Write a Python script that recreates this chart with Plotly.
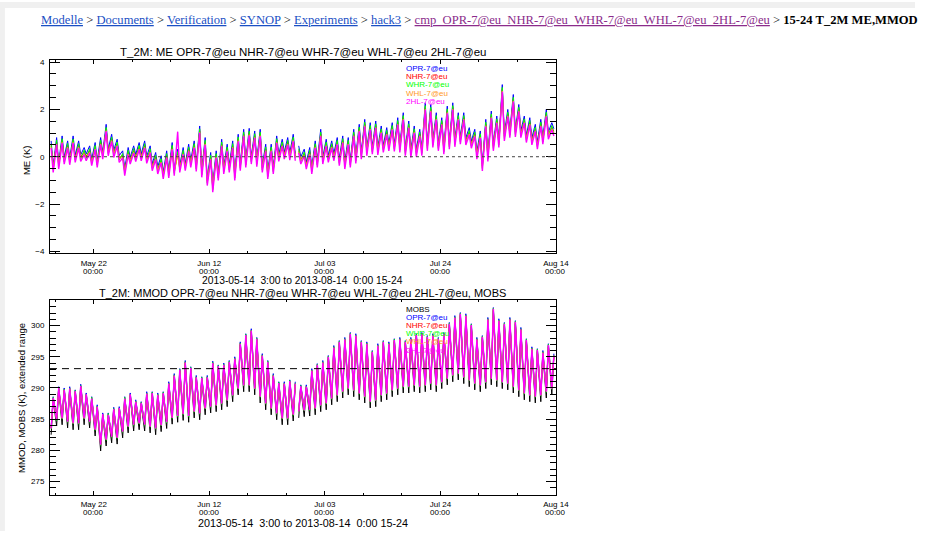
import pandas as pd
import plotly.graph_objects as go

W, H = 928, 534

START_DAY = "2013-05-14"
N_DAYS = 92
GAP_AFTER_DAY = 44          # missing verification around 27/28 June
LO_HOUR_T, HI_HOUR_T = 6, 15
HI_HOUR_ME, LO_HOUR_ME = 6, 15

EXPERIMENTS = ["OPR-7@eu", "NHR-7@eu", "WHR-7@eu", "WHL-7@eu", "2HL-7@eu"]
COLORS = ["#0000ff", "#ff0000", "#00ff00", "#ff9a1f", "#ff00ff"]
WIDTHS = [1, 1, 1, 1, 1.4]

# ---------------- mean error (K), daily upper / lower extremes ----------------
ME_OPR_HI = [
    0.67, 0.81, 0.88, 0.67, 0.88, 0.67, 0.39, 0.46, 0.60, 0.81,
    1.37, 0.95, 0.74, 0.25, 0.39, 0.46, 0.60, 0.67, 0.46, 0.18,
    0.04, 0.25, 0.60, 0.32, 0.39, 0.53, 0.67, 1.30, 0.81, 0.18,
    0.25, 0.74, 0.53, 0.67, 0.95, 1.16, 1.20, 1.09, 1.16, 0.53,
    0.53, 0.88, 0.74, 0.81, 0.95, 0.46, 0.32, 0.39, 0.67, 1.16,
    0.74, 0.67, 0.81, 0.88, 0.81, 1.16, 1.37, 1.58, 1.44, 1.51,
    1.30, 1.23, 1.44, 1.65, 1.86, 1.51, 1.30, 1.16, 2.28, 2.21,
    1.86, 1.65, 2.14, 2.28, 1.86, 1.86, 1.23, 1.16, 1.09, 1.58,
    1.93, 1.72, 3.05, 2.00, 2.63, 2.21, 1.72, 1.65, 1.37, 1.58,
    2.00, 1.44]
ME_OPR_LO = [
    -0.38, -0.25, -0.02, -0.05, 0.06, 0.08, 0.12, -0.10, -0.15, 0.18,
    0.32, 0.27, 0.05, -0.50, -0.02, 0.10, 0.12, 0.02, -0.30, -0.42,
    -0.65, -0.60, -0.52, -0.38, -0.30, -0.16, -0.33, -0.57, -0.92, -1.18,
    -0.70, -0.45, -0.36, -0.70, -0.30, -0.15, -0.02, -0.12, -0.37, -0.64,
    -0.44, 0.10, 0.20, 0.16, 0.13, -0.01, -0.22, -0.44, -0.15, -0.01,
    0.06, 0.13, -0.08, -0.22, -0.15, 0.02, 0.20, 0.34, 0.41, 0.38,
    0.48, 0.55, 0.52, 0.48, 0.34, 0.27, 0.30, 0.34, 0.55, 0.69,
    0.55, 0.41, 0.62, 0.72, 0.83, 0.80, 0.66, 0.20, -0.30, 0.10,
    0.55, 0.69, 0.97, 1.11, 1.14, 1.11, 0.90, 0.80, 0.62, 0.83,
    1.04, 1.18]
ME_NHR_HI = [
    0.47, 0.61, 0.68, 0.47, 0.68, 0.47, 0.19, 0.26, 0.40, 0.61,
    1.17, 0.75, 0.54, 0.05, 0.19, 0.26, 0.40, 0.47, 0.26, -0.02,
    -0.16, 0.05, 0.40, 0.12, 0.19, 0.33, 0.47, 1.10, 0.61, -0.02,
    0.05, 0.54, 0.33, 0.47, 0.75, 0.96, 1.00, 0.89, 0.96, 0.33,
    0.33, 0.68, 0.54, 0.61, 0.75, 0.26, 0.12, 0.19, 0.47, 0.96,
    0.54, 0.47, 0.61, 0.68, 0.61, 0.96, 1.17, 1.38, 1.24, 1.31,
    1.10, 1.03, 1.24, 1.45, 1.66, 1.31, 1.10, 0.96, 2.08, 2.01,
    1.66, 1.45, 1.94, 2.08, 1.66, 1.66, 1.03, 0.96, 0.89, 1.38,
    1.73, 1.52, 2.85, 1.80, 2.43, 2.01, 1.52, 1.45, 1.17, 1.38,
    1.80, 1.24]
ME_NHR_LO = [
    -0.46, -0.32, -0.11, -0.14, -0.04, 0.00, 0.03, -0.18, -0.25, 0.10,
    0.24, 0.17, -0.04, -0.60, -0.11, 0.00, 0.03, -0.08, -0.39, -0.53,
    -0.74, -0.70, -0.60, -0.46, -0.39, -0.25, -0.42, -0.67, -1.02, -1.30,
    -0.80, -0.53, -0.46, -0.80, -0.39, -0.25, -0.11, -0.22, -0.46, -0.74,
    -0.53, 0.00, 0.10, 0.06, 0.03, -0.11, -0.32, -0.53, -0.25, -0.11,
    -0.04, 0.03, -0.18, -0.32, -0.25, -0.08, 0.10, 0.24, 0.31, 0.28,
    0.38, 0.45, 0.42, 0.38, 0.24, 0.17, 0.20, 0.24, 0.45, 0.59,
    0.45, 0.31, 0.52, 0.62, 0.73, 0.70, 0.56, 0.10, -0.40, 0.00,
    0.45, 0.59, 0.87, 1.01, 1.04, 1.01, 0.80, 0.70, 0.52, 0.73,
    0.94, 1.08]
ME_WHR_HI = [
    0.55, 0.70, 0.76, 0.56, 0.75, 0.55, 0.28, 0.34, 0.48, 0.70,
    1.24, 0.83, 0.62, 0.13, 0.27, 0.35, 0.48, 0.55, 0.34, 0.06,
    -0.08, 0.13, 0.48, 0.21, 0.27, 0.41, 0.55, 1.18, 0.69, 0.06,
    0.13, 0.62, 0.41, 0.55, 0.83, 1.04, 1.08, 0.97, 1.04, 0.41,
    0.41, 0.76, 0.62, 0.69, 0.83, 0.34, 0.20, 0.27, 0.55, 1.04,
    0.62, 0.55, 0.69, 0.76, 0.69, 1.04, 1.25, 1.46, 1.32, 1.39,
    1.18, 1.11, 1.32, 1.53, 1.74, 1.39, 1.18, 1.04, 2.16, 2.09,
    1.74, 1.53, 2.02, 2.16, 1.74, 1.74, 1.11, 1.04, 0.97, 1.46,
    1.81, 1.60, 2.93, 1.88, 2.51, 2.09, 1.60, 1.53, 1.25, 1.46,
    1.88, 1.32]
ME_WHR_LO = [
    -0.56, -0.42, -0.21, -0.24, -0.14, -0.10, -0.07, -0.28, -0.35, 0.00,
    0.14, 0.07, -0.14, -0.70, -0.21, -0.10, -0.07, -0.18, -0.49, -0.63,
    -0.84, -0.80, -0.70, -0.56, -0.49, -0.35, -0.52, -0.77, -1.12, -1.40,
    -0.90, -0.63, -0.56, -0.90, -0.49, -0.35, -0.21, -0.32, -0.56, -0.84,
    -0.63, -0.10, 0.00, -0.04, -0.07, -0.21, -0.42, -0.63, -0.35, -0.21,
    -0.14, -0.07, -0.28, -0.42, -0.35, -0.18, 0.00, 0.14, 0.21, 0.18,
    0.28, 0.35, 0.32, 0.28, 0.14, 0.07, 0.10, 0.14, 0.35, 0.49,
    0.35, 0.21, 0.42, 0.52, 0.63, 0.60, 0.46, 0.00, -0.50, -0.10,
    0.35, 0.49, 0.77, 0.91, 0.94, 0.91, 0.70, 0.60, 0.42, 0.63,
    0.84, 0.98]
ME_WHL_HI = [
    0.40, 0.54, 0.61, 0.40, 0.61, 0.40, 0.12, 0.19, 0.33, 0.54,
    1.10, 0.68, 0.47, -0.02, 0.12, 0.19, 0.33, 0.40, 0.19, -0.09,
    -0.23, -0.02, 0.33, 0.05, 0.12, 0.26, 0.40, 1.03, 0.54, -0.09,
    -0.02, 0.47, 0.26, 0.40, 0.68, 0.89, 0.93, 0.82, 0.89, 0.26,
    0.26, 0.61, 0.47, 0.54, 0.68, 0.19, 0.05, 0.12, 0.40, 0.89,
    0.47, 0.40, 0.54, 0.61, 0.54, 0.89, 1.10, 1.31, 1.17, 1.24,
    1.03, 0.96, 1.17, 1.38, 1.59, 1.24, 1.03, 0.89, 2.01, 1.94,
    1.59, 1.38, 1.87, 2.01, 1.59, 1.59, 0.96, 0.89, 0.82, 1.31,
    1.66, 1.45, 2.78, 1.73, 2.36, 1.94, 1.45, 1.38, 1.10, 1.31,
    1.73, 1.17]
ME_WHL_LO = [
    -0.51, -0.37, -0.16, -0.19, -0.09, -0.05, -0.02, -0.23, -0.30, 0.05,
    0.19, 0.12, -0.09, -0.65, -0.16, -0.05, -0.02, -0.13, -0.44, -0.58,
    -0.79, -0.75, -0.65, -0.51, -0.44, -0.30, -0.47, -0.72, -1.07, -1.35,
    -0.85, -0.58, -0.51, -0.85, -0.44, -0.30, -0.16, -0.27, -0.51, -0.79,
    -0.58, -0.05, 0.05, 0.01, -0.02, -0.16, -0.37, -0.58, -0.30, -0.16,
    -0.09, -0.02, -0.23, -0.37, -0.30, -0.13, 0.05, 0.19, 0.26, 0.23,
    0.33, 0.40, 0.37, 0.33, 0.19, 0.12, 0.15, 0.19, 0.40, 0.54,
    0.40, 0.26, 0.47, 0.57, 0.68, 0.65, 0.51, 0.05, -0.45, -0.05,
    0.40, 0.54, 0.82, 0.96, 0.99, 0.96, 0.75, 0.65, 0.47, 0.68,
    0.89, 1.03]
ME_2HL_HI = [
    0.37, 0.51, 0.58, 0.37, 0.58, 0.37, 0.09, 0.16, 0.30, 0.51,
    1.07, 0.65, 0.44, -0.05, 0.09, 0.16, 0.30, 0.37, 0.16, -0.12,
    -0.26, -0.05, 0.30, 1.06, 0.09, 0.23, 0.37, 1.00, 0.51, -0.12,
    -0.05, 0.44, 0.23, 0.37, 0.65, 0.86, 0.90, 0.79, 0.86, 0.23,
    0.23, 0.58, 0.44, 0.51, 0.65, 0.16, 0.02, 0.09, 0.37, 0.86,
    0.44, 0.37, 0.51, 0.58, 0.51, 0.86, 1.07, 1.28, 1.14, 1.21,
    1.00, 0.93, 1.14, 1.35, 1.56, 1.21, 1.00, 0.86, 1.98, 1.91,
    1.56, 1.35, 1.84, 1.98, 1.56, 1.56, 0.93, 0.86, 0.79, 1.28,
    1.63, 1.42, 2.75, 1.70, 2.33, 1.91, 1.42, 1.35, 1.07, 1.28,
    1.70, 1.14]
ME_2HL_LO = [
    -0.66, -0.52, -0.31, -0.34, -0.24, -0.20, -0.17, -0.38, -0.45, -0.10,
    0.04, -0.03, -0.24, -0.80, -0.31, -0.20, -0.17, -0.28, -0.59, -0.73,
    -0.94, -0.90, -0.80, -0.66, -0.59, -0.45, -0.62, -0.87, -1.22, -1.50,
    -1.00, -0.73, -0.66, -1.00, -0.59, -0.45, -0.31, -0.42, -0.66, -0.94,
    -0.73, -0.20, -0.10, -0.14, -0.17, -0.31, -0.52, -0.73, -0.45, -0.31,
    -0.24, -0.17, -0.38, -0.52, -0.45, -0.28, -0.10, 0.04, 0.11, 0.08,
    0.18, 0.25, 0.22, 0.18, 0.04, -0.03, 0.00, 0.04, 0.25, 0.39,
    0.25, 0.11, 0.32, 0.42, 0.53, 0.50, 0.36, -0.10, -0.60, -0.20,
    0.25, 0.39, 0.67, 0.81, 0.84, 0.81, 0.60, 0.50, 0.32, 0.53,
    0.74, 0.88]

# ---------------- 2 m temperature (K), daily minimum / maximum ----------------
MOBS_HI = [
    288.1, 289.7, 289.5, 289.7, 289.2, 290.1, 288.7, 288.1, 286.8, 285.5,
    285.5, 286.4, 286.5, 288.1, 288.7, 287.6, 287.3, 288.9, 288.9, 288.7,
    288.9, 290.5, 291.8, 292.6, 293.9, 292.9, 291.5, 291.3, 291.5, 293.8,
    293.2, 293.5, 293.9, 294.5, 296.9, 298.2, 299.0, 297.6, 295.0, 293.9,
    291.8, 290.5, 290.5, 290.8, 290.5, 290.0, 290.0, 292.6, 293.4, 293.9,
    294.7, 296.3, 297.1, 297.6, 298.4, 298.2, 297.1, 296.9, 295.5, 296.6,
    297.1, 296.9, 297.4, 297.6, 297.1, 297.6, 298.2, 298.4, 297.9, 298.2,
    297.6, 298.4, 300.0, 301.1, 301.6, 301.4, 299.8, 297.6, 297.9, 300.8,
    302.4, 300.6, 300.0, 300.8, 300.3, 299.2, 297.4, 296.1, 295.8, 295.5,
    296.6, 295.0]
MOBS_LO = [
    282.5, 283.9, 284.1, 283.6, 283.3, 283.3, 284.1, 283.6, 282.3, 279.9,
    280.7, 281.2, 281.0, 282.0, 282.8, 283.1, 283.3, 283.1, 282.8, 282.5,
    283.0, 283.5, 284.2, 284.5, 284.8, 284.5, 285.2, 284.9, 285.7, 286.0,
    286.2, 286.5, 287.0, 287.8, 288.9, 289.4, 289.4, 288.9, 287.6, 286.5,
    285.7, 284.9, 284.1, 284.1, 284.7, 285.2, 285.4, 285.5, 285.7, 286.2,
    286.5, 287.3, 287.8, 288.4, 288.9, 288.6, 288.1, 287.6, 286.8, 287.0,
    287.8, 288.1, 288.6, 288.9, 289.2, 289.2, 289.4, 289.2, 289.4, 289.7,
    289.4, 289.9, 290.5, 291.0, 291.3, 290.7, 290.2, 289.7, 289.4, 289.9,
    290.5, 290.2, 289.9, 289.7, 289.2, 288.6, 288.1, 287.8, 287.6, 287.8,
    288.4, 288.9]
T_OPR_HI = [
    288.6, 290.2, 290.0, 290.2, 289.7, 290.6, 289.2, 288.6, 287.3, 286.0,
    286.0, 286.9, 287.0, 288.6, 289.2, 288.1, 287.8, 289.4, 289.4, 289.2,
    289.4, 291.0, 292.3, 293.1, 294.4, 293.4, 292.0, 291.8, 292.0, 294.3,
    293.7, 294.0, 294.4, 295.0, 297.4, 298.7, 299.5, 298.1, 295.5, 294.4,
    292.3, 291.0, 291.0, 291.3, 291.0, 290.5, 290.5, 293.1, 293.9, 294.4,
    295.2, 296.8, 297.6, 298.1, 298.9, 298.7, 297.6, 297.4, 296.0, 297.1,
    297.6, 297.4, 297.9, 298.1, 297.6, 298.1, 298.7, 298.9, 298.4, 298.7,
    298.1, 298.9, 300.5, 301.6, 302.1, 301.9, 300.3, 298.1, 298.4, 301.3,
    302.9, 301.1, 300.5, 301.3, 300.8, 299.7, 297.9, 296.6, 296.3, 296.0,
    297.1, 295.5]
T_OPR_LO = [
    283.7, 285.1, 285.3, 284.8, 284.5, 284.5, 285.3, 284.8, 283.5, 281.1,
    281.9, 282.4, 282.2, 283.2, 284.0, 284.3, 284.5, 284.3, 284.0, 283.7,
    284.2, 284.7, 285.4, 285.7, 286.0, 285.7, 286.4, 286.1, 286.9, 287.2,
    287.4, 287.7, 288.2, 289.0, 290.1, 290.6, 290.6, 290.1, 288.8, 287.7,
    286.9, 286.1, 285.3, 285.3, 285.9, 286.4, 286.6, 286.7, 286.9, 287.4,
    287.7, 288.5, 289.0, 289.6, 290.1, 289.8, 289.3, 288.8, 288.0, 288.2,
    289.0, 289.3, 289.8, 290.1, 290.4, 290.4, 290.6, 290.4, 290.6, 290.9,
    290.6, 291.1, 291.7, 292.2, 292.5, 291.9, 291.4, 290.9, 290.6, 291.1,
    291.7, 291.4, 291.1, 290.9, 290.4, 289.8, 289.3, 289.0, 288.8, 289.0,
    289.6, 290.1]
T_NHR_HI = [
    288.3, 289.9, 289.7, 289.9, 289.4, 290.3, 288.9, 288.3, 287.0, 285.7,
    285.7, 286.6, 286.7, 288.3, 288.9, 287.8, 287.5, 289.1, 289.1, 288.9,
    289.1, 290.7, 292.0, 292.8, 294.1, 293.1, 291.7, 291.5, 291.7, 294.0,
    293.4, 293.7, 294.1, 294.7, 297.1, 298.4, 299.2, 297.8, 295.2, 294.1,
    292.0, 290.7, 290.7, 291.0, 290.7, 290.2, 290.2, 292.8, 293.6, 294.1,
    294.9, 296.5, 297.3, 297.8, 298.6, 298.4, 297.3, 297.1, 295.7, 296.8,
    297.3, 297.1, 297.6, 297.8, 297.3, 297.8, 298.4, 298.6, 298.1, 298.4,
    297.8, 298.6, 300.2, 301.3, 301.8, 301.6, 300.0, 297.8, 298.1, 301.0,
    302.6, 300.8, 300.2, 301.0, 300.5, 299.4, 297.6, 296.3, 296.0, 295.7,
    296.8, 295.2]
T_NHR_LO = [
    283.6, 285.0, 285.2, 284.7, 284.4, 284.4, 285.2, 284.7, 283.4, 281.0,
    281.8, 282.3, 282.1, 283.1, 283.9, 284.2, 284.4, 284.2, 283.9, 283.6,
    284.1, 284.6, 285.3, 285.6, 285.9, 285.6, 286.3, 286.0, 286.8, 287.1,
    287.3, 287.6, 288.1, 288.9, 290.0, 290.5, 290.5, 290.0, 288.7, 287.6,
    286.8, 286.0, 285.2, 285.2, 285.8, 286.3, 286.5, 286.6, 286.8, 287.3,
    287.6, 288.4, 288.9, 289.5, 290.0, 289.7, 289.2, 288.7, 287.9, 288.1,
    288.9, 289.2, 289.7, 290.0, 290.3, 290.3, 290.5, 290.3, 290.5, 290.8,
    290.5, 291.0, 291.6, 292.1, 292.4, 291.8, 291.3, 290.8, 290.5, 291.0,
    291.6, 291.3, 291.0, 290.8, 290.3, 289.7, 289.2, 288.9, 288.7, 288.9,
    289.5, 290.0]
T_WHR_HI = [
    288.5, 290.1, 289.8, 290.0, 289.6, 290.4, 289.0, 288.5, 287.1, 285.8,
    285.9, 286.7, 286.8, 288.5, 289.0, 287.9, 287.7, 289.2, 289.3, 289.0,
    289.3, 290.8, 292.1, 293.0, 294.2, 293.3, 291.8, 291.7, 291.8, 294.1,
    293.6, 293.8, 294.3, 294.8, 297.2, 298.6, 299.3, 298.0, 295.3, 294.3,
    292.1, 290.9, 290.8, 291.2, 290.8, 290.4, 290.3, 292.9, 293.8, 294.2,
    295.1, 296.6, 297.5, 297.9, 298.8, 298.5, 297.5, 297.2, 295.9, 296.9,
    297.5, 297.2, 297.8, 297.9, 297.5, 297.9, 298.6, 298.7, 298.3, 298.5,
    298.0, 298.7, 300.4, 301.4, 302.0, 301.7, 300.2, 297.9, 298.3, 301.1,
    302.8, 300.9, 300.4, 301.1, 300.7, 299.5, 297.8, 296.4, 296.2, 295.8,
    297.0, 295.3]
T_WHR_LO = [
    283.4, 284.8, 285.0, 284.5, 284.2, 284.2, 285.0, 284.5, 283.2, 280.8,
    281.6, 282.1, 281.9, 282.9, 283.7, 284.0, 284.2, 284.0, 283.7, 283.4,
    283.9, 284.4, 285.1, 285.4, 285.7, 285.4, 286.1, 285.8, 286.6, 286.9,
    287.1, 287.4, 287.9, 288.7, 289.8, 290.3, 290.3, 289.8, 288.5, 287.4,
    286.6, 285.8, 285.0, 285.0, 285.6, 286.1, 286.3, 286.4, 286.6, 287.1,
    287.4, 288.2, 288.7, 289.3, 289.8, 289.5, 289.0, 288.5, 287.7, 287.9,
    288.7, 289.0, 289.5, 289.8, 290.1, 290.1, 290.3, 290.1, 290.3, 290.6,
    290.3, 290.8, 291.4, 291.9, 292.2, 291.6, 291.1, 290.6, 290.3, 290.8,
    291.4, 291.1, 290.8, 290.6, 290.1, 289.5, 289.0, 288.7, 288.5, 288.7,
    289.3, 289.8]
T_WHL_HI = [
    288.2, 289.8, 289.6, 289.8, 289.3, 290.2, 288.8, 288.2, 286.9, 285.6,
    285.6, 286.5, 286.6, 288.2, 288.8, 287.7, 287.4, 289.0, 289.0, 288.8,
    289.0, 290.6, 291.9, 292.7, 294.0, 293.0, 291.6, 291.4, 291.6, 293.9,
    293.3, 293.6, 294.0, 294.6, 297.0, 298.3, 299.1, 297.7, 295.1, 294.0,
    291.9, 290.6, 290.6, 290.9, 290.6, 290.1, 290.1, 292.7, 293.5, 294.0,
    294.8, 296.4, 297.2, 297.7, 298.5, 298.3, 297.2, 297.0, 295.6, 296.7,
    297.2, 297.0, 297.5, 297.7, 297.2, 297.7, 298.3, 298.5, 298.0, 298.3,
    297.7, 298.5, 300.1, 301.2, 301.7, 301.5, 299.9, 297.7, 298.0, 300.9,
    302.5, 300.7, 300.1, 300.9, 300.4, 299.3, 297.5, 296.2, 295.9, 295.6,
    296.7, 295.1]
T_WHL_LO = [
    283.55, 284.95, 285.15, 284.65, 284.35, 284.35, 285.15, 284.65, 283.35, 280.95,
    281.75, 282.25, 282.05, 283.05, 283.85, 284.15, 284.35, 284.15, 283.85, 283.55,
    284.05, 284.55, 285.25, 285.55, 285.85, 285.55, 286.25, 285.95, 286.75, 287.05,
    287.25, 287.55, 288.05, 288.85, 289.95, 290.45, 290.45, 289.95, 288.65, 287.55,
    286.75, 285.95, 285.15, 285.15, 285.75, 286.25, 286.45, 286.55, 286.75, 287.25,
    287.55, 288.35, 288.85, 289.45, 289.95, 289.65, 289.15, 288.65, 287.85, 288.05,
    288.85, 289.15, 289.65, 289.95, 290.25, 290.25, 290.45, 290.25, 290.45, 290.75,
    290.45, 290.95, 291.55, 292.05, 292.35, 291.75, 291.25, 290.75, 290.45, 290.95,
    291.55, 291.25, 290.95, 290.75, 290.25, 289.65, 289.15, 288.85, 288.65, 288.85,
    289.45, 289.95]
T_2HL_HI = [
    288.4, 290.0, 289.7, 289.9, 289.5, 290.3, 289.0, 288.3, 287.0, 285.8,
    285.7, 286.6, 286.8, 288.3, 289.0, 287.8, 287.6, 289.1, 289.2, 288.9,
    289.2, 290.7, 292.0, 292.9, 294.1, 293.2, 291.7, 291.6, 291.7, 294.0,
    293.5, 293.7, 294.2, 294.7, 297.1, 298.5, 299.2, 297.9, 295.2, 294.2,
    292.0, 290.8, 290.7, 291.1, 290.7, 290.3, 290.2, 292.8, 293.7, 294.1,
    295.0, 296.5, 297.4, 297.8, 298.7, 298.4, 297.4, 297.1, 295.8, 296.8,
    297.4, 297.1, 297.7, 297.8, 297.4, 297.8, 298.5, 298.6, 298.2, 298.4,
    297.9, 298.6, 300.3, 301.3, 301.9, 301.6, 300.1, 297.8, 298.2, 301.0,
    302.7, 300.8, 300.3, 301.0, 300.6, 299.4, 297.7, 296.3, 296.1, 295.7,
    296.9, 295.2]
T_2HL_LO = [
    283.5, 284.9, 285.1, 284.6, 284.3, 284.3, 285.1, 284.6, 283.3, 280.9,
    281.7, 282.2, 282.0, 283.0, 283.8, 284.1, 284.3, 284.1, 283.8, 283.5,
    284.0, 284.5, 285.2, 285.5, 285.8, 285.5, 286.2, 285.9, 286.7, 287.0,
    287.2, 287.5, 288.0, 288.8, 289.9, 290.4, 290.4, 289.9, 288.6, 287.5,
    286.7, 285.9, 285.1, 285.1, 285.7, 286.2, 286.4, 286.5, 286.7, 287.2,
    287.5, 288.3, 288.8, 289.4, 289.9, 289.6, 289.1, 288.6, 287.8, 288.0,
    288.8, 289.1, 289.6, 289.9, 290.2, 290.2, 290.4, 290.2, 290.4, 290.7,
    290.4, 290.9, 291.5, 292.0, 292.3, 291.7, 291.2, 290.7, 290.4, 290.9,
    291.5, 291.2, 290.9, 290.7, 290.2, 289.6, 289.1, 288.8, 288.6, 288.8,
    289.4, 289.9]

T_REF_LINE = 293.1

# axis labelling
X_RANGE = ["2013-05-14 01:00", "2013-08-14 02:00"]
MAJOR_TICKS = ["2013-05-22", "2013-06-12", "2013-07-03", "2013-07-24", "2013-08-14"]
MAJOR_LABELS = ["May 22", "Jun 12", "Jul 03", "Jul 24", "Aug 14"]
TICK_TIME = "00:00"
PERIOD_LABEL = "2013-05-14  3:00 to 2013-08-14  0:00 15-24"

ME_SERIES = [(ME_OPR_LO, ME_OPR_HI), (ME_NHR_LO, ME_NHR_HI), (ME_WHR_LO, ME_WHR_HI),
             (ME_WHL_LO, ME_WHL_HI), (ME_2HL_LO, ME_2HL_HI)]
T_SERIES = [(T_OPR_LO, T_OPR_HI), (T_NHR_LO, T_NHR_HI), (T_WHR_LO, T_WHR_HI),
            (T_WHL_LO, T_WHL_HI), (T_2HL_LO, T_2HL_HI)]

for lo, hi in ME_SERIES + T_SERIES + [(MOBS_LO, MOBS_HI)]:
    assert len(lo) == N_DAYS and len(hi) == N_DAYS

days = pd.date_range(START_DAY, periods=N_DAYS, freq="D")


def daily_path(lo, hi, lo_hour, hi_hour):
    """Chain each day's two extremes in time order; break the line at the data gap."""
    xs, ys = [], []
    for i, day in enumerate(days):
        for hour, val in sorted([(lo_hour, lo[i]), (hi_hour, hi[i])]):
            xs.append(day + pd.Timedelta(hours=hour))
            ys.append(val)
        if i == GAP_AFTER_DAY:
            xs.append(day + pd.Timedelta(hours=23))
            ys.append(None)
    return xs, ys


# pixel layout helpers
def fx(px):
    return px / W


def fy(py):
    return 1 - py / H


LEFT, RIGHT = 50.7, 564.3
TOP1, BOT1 = 58.3, 253.3
TOP2, BOT2 = 300.7, 497.3

fig = go.Figure()

for name, color, lw, (lo, hi) in zip(EXPERIMENTS, COLORS, WIDTHS, ME_SERIES):
    xs, ys = daily_path(lo, hi, LO_HOUR_ME, HI_HOUR_ME)
    fig.add_trace(go.Scatter(x=xs, y=ys, mode="lines", name=name, xaxis="x", yaxis="y",
                             line=dict(color=color, width=lw), connectgaps=False))

xs, ys = daily_path(MOBS_LO, MOBS_HI, LO_HOUR_T, HI_HOUR_T)
fig.add_trace(go.Scatter(x=xs, y=ys, mode="lines", name="MOBS", xaxis="x2", yaxis="y2",
                         line=dict(color="#000000", width=1), connectgaps=False))
for name, color, lw, (lo, hi) in zip(EXPERIMENTS, COLORS, WIDTHS, T_SERIES):
    xs, ys = daily_path(lo, hi, LO_HOUR_T, HI_HOUR_T)
    fig.add_trace(go.Scatter(x=xs, y=ys, mode="lines", name=name, xaxis="x2", yaxis="y2",
                             line=dict(color=color, width=lw), connectgaps=False))

TICKFONT = dict(family="Liberation Sans", size=8, color="#000000")


def x_axis(anchor):
    return dict(
        type="date", range=X_RANGE, domain=[fx(LEFT), fx(RIGHT)], anchor=anchor,
        tickmode="array", tickvals=MAJOR_TICKS, ticktext=MAJOR_LABELS,
        ticks="inside", ticklen=4, tickwidth=1, tickcolor="#000000",
        showline=True, linecolor="#000000", linewidth=1, mirror="allticks",
        showgrid=False, zeroline=False, tickfont=TICKFONT, ticklabelstandoff=2,
        minor=dict(ticks="inside", ticklen=2, tickwidth=1, tickcolor="#000000",
                   dtick=7 * 86400000, tick0="2013-05-15", showgrid=False),
    )


def y_axis(anchor, top, bot, rng, dtick, minor_dtick):
    return dict(
        range=rng, domain=[fy(bot), fy(top)], anchor=anchor, dtick=dtick, tick0=0,
        ticks="inside", ticklen=10, tickwidth=1, tickcolor="#000000",
        showline=True, linecolor="#000000", linewidth=1, mirror="allticks",
        showgrid=False, zeroline=False, tickfont=TICKFONT, ticklabelstandoff=3,
        minor=dict(ticks="inside", ticklen=6, tickwidth=1, tickcolor="#000000",
                   dtick=minor_dtick, showgrid=False),
    )


annotations = []


def text(px, py, s, size=9, color="#000000", xanchor="center", angle=0, family="Liberation Sans"):
    annotations.append(dict(x=fx(px), y=fy(py), xref="paper", yref="paper", text=s,
                            showarrow=False, xanchor=xanchor, yanchor="middle",
                            textangle=angle, font=dict(family=family, size=size, color=color)))


# breadcrumb line
LINK, VISITED = "#1a4fc4", "#8b2b8b"
crumbs = ["Modelle", "Documents", "Verification", "SYNOP", "Experiments", "hack3"]
cmp_name = "cmp_" + "_".join(EXPERIMENTS)
bc = " &gt; ".join(f'<span style="color:{LINK}"><u>{c}</u></span>' for c in crumbs)
bc += f' &gt; <span style="color:{VISITED}"><u>{cmp_name}</u></span>'
bc += " &gt; <b>15-24 T_2M ME,MMOD</b>"
text(40, 18, bc, size=12.6, xanchor="left", family="Liberation Serif")

# titles
text(307, 50.5, "T_2M: ME " + " ".join(EXPERIMENTS), size=11.5)
text(307, 293.3, "T_2M: MMOD " + " ".join(EXPERIMENTS) + ", MOBS", size=11)
text(307, 281, PERIOD_LABEL, size=10.3)
text(307, 525.5, PERIOD_LABEL, size=10.8)
text(27, 160, "ME (K)", size=9.5, angle=-90)
text(22, 400, "MMOD, MOBS (K), extended range", size=9.5, angle=-90)

# second line of the date tick labels
for xr, bot in (("x", BOT1), ("x2", BOT2)):
    for t in MAJOR_TICKS:
        annotations.append(dict(x=t, y=fy(bot + 18.5), xref=xr, yref="paper", text=TICK_TIME,
                                showarrow=False, xanchor="center", yanchor="middle",
                                font=TICKFONT))

# in-plot legends
for i, (name, color) in enumerate(zip(EXPERIMENTS, COLORS)):
    text(409.5, 67 + 8.35 * i, name, size=8, color=color, xanchor="left")
for i, (name, color) in enumerate(zip(["MOBS"] + EXPERIMENTS, ["#000000"] + COLORS)):
    text(409.5, 310 + 8.3 * i, name, size=8, color=color, xanchor="left")

shapes = [
    dict(type="rect", xref="paper", yref="paper", x0=0, x1=1, y0=fy(6), y1=1,
         fillcolor="#f0f0f0", line=dict(width=0), layer="below"),
    dict(type="rect", xref="paper", yref="paper", x0=0, x1=fx(5), y0=0, y1=1,
         fillcolor="#f0f0f0", line=dict(width=0), layer="below"),
    dict(type="line", xref="x domain", yref="y", x0=0, x1=1, y0=0, y1=0,
         line=dict(color="#444444", width=1, dash="dot"), layer="above"),
    dict(type="line", xref="x2 domain", yref="y2", x0=0, x1=1, y0=T_REF_LINE, y1=T_REF_LINE,
         line=dict(color="#000000", width=1, dash="7px,5px"), layer="above"),
]

fig.update_layout(
    width=W, height=H, autosize=False,
    margin=dict(l=0, r=0, t=0, b=0, pad=0),
    paper_bgcolor="#ffffff", plot_bgcolor="#ffffff",
    font=dict(family="Liberation Sans", size=9, color="#000000"),
    showlegend=False,
    xaxis=x_axis("y"),
    yaxis=y_axis("x", TOP1, BOT1, [-4.067, 4.10], 2, 0.5),
    xaxis2=x_axis("y2"),
    yaxis2=y_axis("x2", TOP2, BOT2, [272.89, 304.13], 5, 1),
    annotations=annotations,
    shapes=shapes,
)

fig.write_html("out.html")
